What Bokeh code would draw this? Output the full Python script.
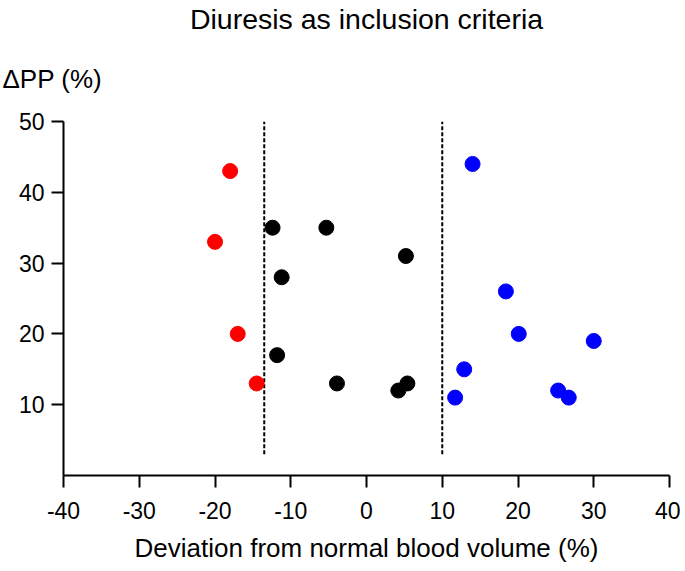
from bokeh.plotting import figure
from bokeh.models import Range1d, FixedTicker, Title
from bokeh.embed import file_html
from bokeh.resources import INLINE

# Data
red_x = [-18.0, -20.0, -17.0, -14.5]
red_y = [43, 33, 20, 13]
black_x = [-12.4, -5.3, 5.2, -11.2, -11.8, -3.9, 5.4, 4.2]
black_y = [35, 35, 31, 28, 17, 13, 13, 12]
blue_x = [14.0, 18.4, 20.1, 30.0, 12.9, 11.7, 25.3, 26.7]
blue_y = [44, 26, 20, 19, 15, 11, 12, 11]
cutoffs = [-13.5, 10]
cutoff_y = [3, 50]
x_ticks = [-40, -30, -20, -10, 0, 10, 20, 30, 40]
y_ticks = [10, 20, 30, 40, 50]

FONT = "Liberation Sans"

p = figure(width=680, height=565, output_backend="svg", toolbar_location=None, title=None,
           x_range=Range1d(-40, 40), y_range=Range1d(0, 50),
           min_border_left=63, min_border_right=11, min_border_top=121, min_border_bottom=86)
p.outline_line_color = None
p.grid.visible = False

for ax in (p.xaxis[0], p.yaxis[0]):
    ax.axis_line_width = 2
    ax.major_tick_line_width = 2
    ax.major_tick_out = 12
    ax.major_tick_in = 0
    ax.minor_tick_line_color = None
    ax.major_label_text_font = FONT
    ax.major_label_text_font_size = "23px"
    ax.major_label_text_color = "black"
    ax.axis_line_color = "black"
    ax.major_tick_line_color = "black"

p.xaxis.ticker = FixedTicker(ticks=x_ticks)
p.yaxis.ticker = FixedTicker(ticks=y_ticks)
p.xaxis.major_label_overrides = {t: str(t) for t in x_ticks}
p.yaxis.major_label_overrides = {t: str(t) for t in y_ticks}
p.xaxis.major_label_standoff = 14
p.yaxis.major_label_standoff = 7
p.xaxis.axis_label = "Deviation from normal blood volume (%)"
p.xaxis.axis_label_text_font = FONT
p.xaxis.axis_label_text_font_size = "26px"
p.xaxis.axis_label_text_font_style = "normal"
p.xaxis.axis_label_text_color = "black"
p.xaxis.axis_label_standoff = 11

for cx in cutoffs:
    p.line([cx, cx], cutoff_y, line_color="black", line_width=2, line_dash="4 2")

p.scatter(red_x, red_y, size=15, color="#ff0000")
p.scatter(black_x, black_y, size=15, color="black")
p.scatter(blue_x, blue_y, size=15, color="#0000ff")

ylab = Title(text="ΔPP (%)", align="left", offset=-61, text_font=FONT,
             text_font_size="26px", text_font_style="normal", text_color="black", standoff=55)
p.add_layout(ylab, "above")

main = Title(text="Diuresis as inclusion criteria", align="center", text_font=FONT,
             text_font_size="28.5px", text_font_style="normal", text_color="black", standoff=0)
p.add_layout(main, "above")

open("out.html", "w").write(file_html(p, INLINE))
